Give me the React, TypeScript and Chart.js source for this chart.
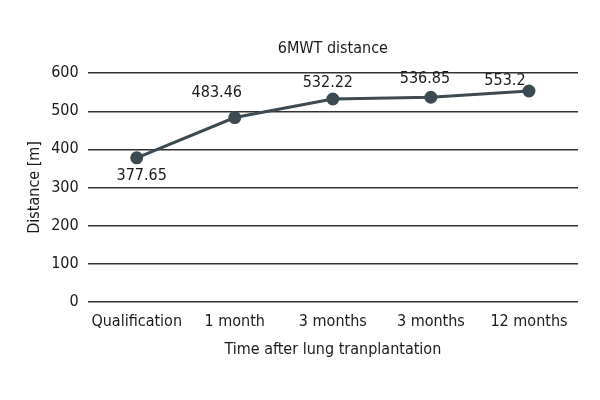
import React, { useEffect, useRef } from "react";
import { Chart, registerables } from "chart.js";

Chart.register(...registerables);

const categories = ["Qualification", "1 month", "3 months", "3 months", "12 months"];
const distances = [377.65, 483.46, 532.22, 536.85, 553.2];
const valueLabels = ["377.65", "483.46", "532.22", "536.85", "553.2"];
const yTicks = [0, 100, 200, 300, 400, 500, 600];

const FONT = "'Liberation Sans Narrow', 'DejaVu Sans Condensed', sans-serif";
const LINE = "#3d4a52";
const TEXT = "#1a1a1a";

const labelOffsets = [
  [5, 18],
  [-18, -25],
  [-5, -16],
  [-6, -18],
  [-24, -10],
];

const dataLabelPlugin = {
  id: "dataLabels",
  afterDatasetsDraw(chart: any) {
    const ctx = chart.ctx;
    const meta = chart.getDatasetMeta(0);
    ctx.save();
    ctx.font = `16px ${FONT}`;
    ctx.fillStyle = TEXT;
    ctx.textAlign = "center";
    ctx.textBaseline = "middle";
    meta.data.forEach((pt: any, i: number) => {
      const [dx, dy] = labelOffsets[i];
      ctx.fillText(valueLabels[i], pt.x + dx, pt.y + dy);
    });
    ctx.restore();
  },
};

const bgPlugin = {
  id: "bg",
  beforeDraw(chart: any) {
    const ctx = chart.ctx;
    ctx.save();
    ctx.fillStyle = "#ffffff";
    ctx.fillRect(0, 0, chart.width, chart.height);
    ctx.restore();
  },
};

export default function App() {
  const ref = useRef<HTMLCanvasElement>(null);
  useEffect(() => {
    if (!ref.current) return;
    const chart = new Chart(ref.current, {
      type: "line",
      data: {
        labels: categories,
        datasets: [
          {
            data: distances,
            borderColor: LINE,
            backgroundColor: LINE,
            borderWidth: 3,
            pointRadius: 5,
            pointHoverRadius: 5,
            pointBackgroundColor: LINE,
            pointBorderColor: LINE,
            tension: 0,
            fill: false,
          },
        ],
      },
      options: {
        animation: false,
        responsive: false,
        maintainAspectRatio: false,
        layout: { padding: { left: 25, right: 22, top: 39, bottom: 41 } },
        plugins: {
          legend: { display: false },
          tooltip: { enabled: false },
          title: {
            display: true,
            text: "6MWT distance",
            fullSize: false,
            color: TEXT,
            font: { family: FONT, size: 16, weight: "normal" },
            padding: { top: 0, bottom: 15 },
          },
        },
        scales: {
          x: {
            offset: true,
            grid: { display: false, drawTicks: false },
            border: { display: false },
            ticks: {
              color: TEXT,
              font: { family: FONT, size: 16 },
              padding: 11,
              autoSkip: false,
              maxRotation: 0,
            },
            title: {
              display: true,
              text: "Time after lung tranplantation",
              color: TEXT,
              font: { family: FONT, size: 16 },
              padding: { top: -3, bottom: 0 },
            },
          },
          y: {
            min: 0,
            max: 600,
            afterBuildTicks(axis: any) {
              axis.ticks = yTicks.map((v) => ({ value: v }));
            },
            grid: { color: "#333333", lineWidth: 1.5, drawTicks: false },
            border: { display: false },
            ticks: {
              color: TEXT,
              font: { family: FONT, size: 16 },
              padding: 9,
            },
            title: {
              display: true,
              text: "Distance [m]",
              color: TEXT,
              font: { family: FONT, size: 16 },
              padding: { top: 0, bottom: -2 },
            },
          },
        },
      },
      plugins: [bgPlugin, dataLabelPlugin],
    });
    return () => chart.destroy();
  }, []);
  return (
    <div style={{ position: "absolute", left: 0, top: 0, width: 600, height: 400 }}>
      <canvas ref={ref} width={600} height={400} style={{ width: 600, height: 400 }} />
    </div>
  );
}
